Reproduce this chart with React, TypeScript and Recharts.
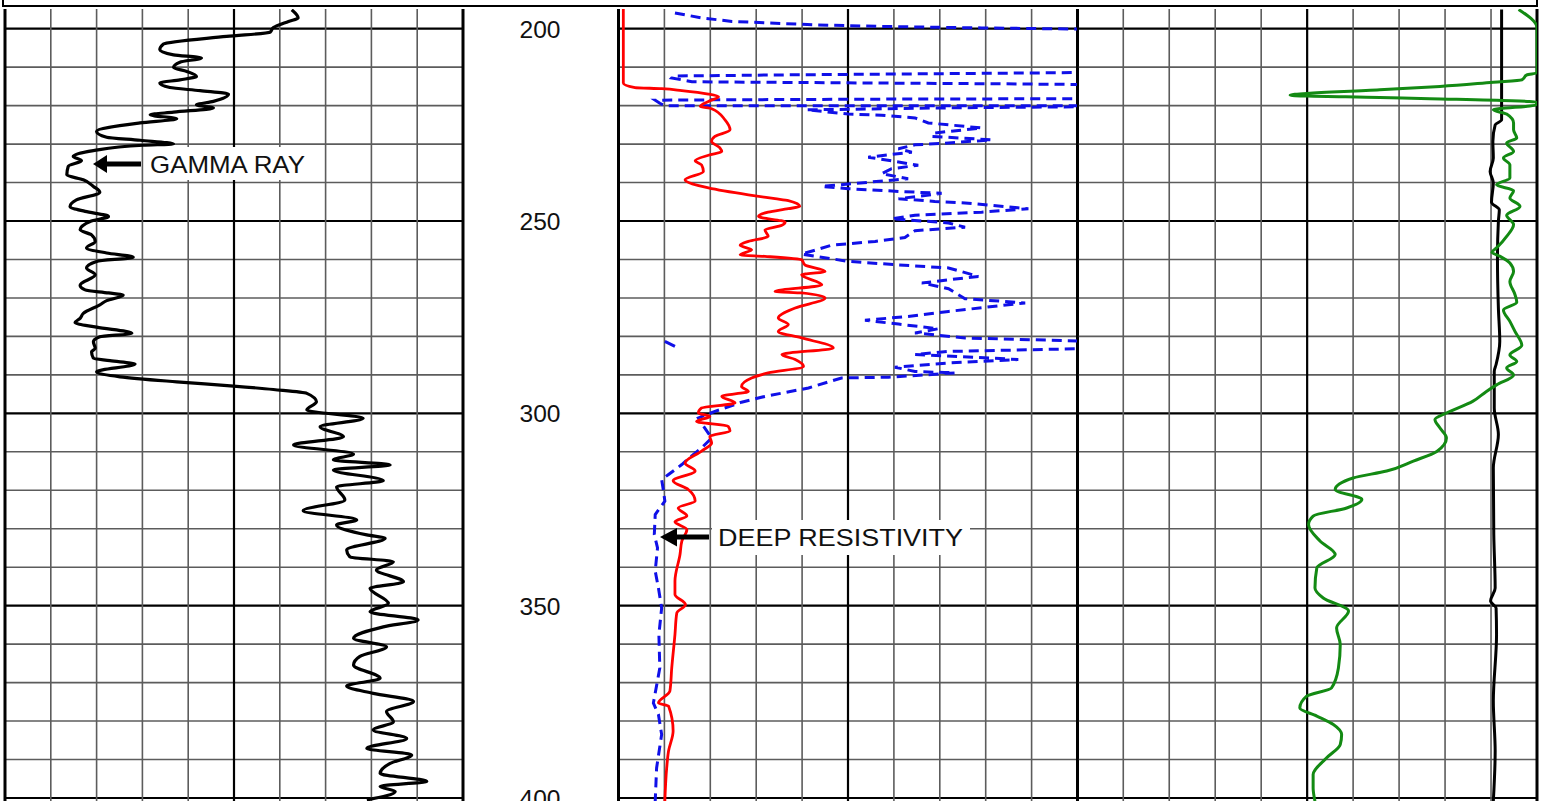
import React from "react";
import { LineChart, Line, XAxis, YAxis, ReferenceLine } from "recharts";

// depth window shown in the log (top of tracks -> bottom of page)
const DEPTH_TOP = 194.88;
const DEPTH_BOTTOM = 400.78;

const depthLabels = [200, 250, 300, 350, 400];
const gridDepths = [
  200, 210, 220, 230, 240, 250, 260, 270, 280, 290, 300, 310, 320, 330, 340,
  350, 360, 370, 380, 390, 400,
];
const gridValues = [0, 10, 20, 30, 40, 50, 60, 70, 80, 90, 100];

// [depth, value] pairs, value in track divisions (0-100)
const gammaRay: [number, number][] = [
  [195.1, 62.6], [197.2, 64.0], [198.1, 61.9], [199.7, 58.6], [200.9, 57.9],
  [202.0, 48.4], [204.0, 34.6], [205.5, 33.8], [206.8, 36.8], [207.6, 42.9],
  [208.7, 38.2], [210.1, 36.8], [211.1, 39.7], [212.4, 41.8], [213.3, 38.2],
  [214.1, 33.8], [215.3, 36.0], [216.1, 42.6], [217.0, 48.8], [218.9, 45.5],
  [219.8, 41.8], [220.6, 45.5], [221.7, 36.8], [222.4, 31.7], [223.4, 37.5],
  [224.5, 29.5], [226.7, 20.0], [228.2, 22.2], [229.0, 29.5], [230.0, 36.8],
  [230.3, 30.2], [231.7, 19.3], [233.2, 14.9], [234.3, 16.7], [235.8, 13.8],
  [238.0, 13.5], [239.3, 17.1], [241.0, 19.3], [242.5, 20.7], [244.5, 15.6],
  [246.2, 14.2], [247.5, 17.5], [248.8, 22.6], [250.1, 18.6], [252.3, 16.4],
  [253.6, 18.9], [255.3, 19.7], [257.0, 17.8], [258.3, 22.2], [259.4, 28.0],
  [260.5, 20.0], [262.2, 17.8], [264.0, 19.7], [266.7, 16.4], [267.9, 17.5],
  [268.7, 22.6], [269.3, 25.8], [270.7, 22.2], [271.8, 20.7], [274.0, 17.1],
  [275.3, 16.4], [276.4, 15.3], [277.6, 20.0], [279.2, 27.7], [280.1, 20.7],
  [281.4, 19.3], [283.1, 19.7], [284.0, 18.9], [285.7, 19.3], [286.3, 22.9],
  [287.2, 28.4], [289.2, 20.0], [290.5, 25.1], [291.8, 37.5], [292.9, 49.9],
  [293.8, 58.6], [294.8, 65.9], [297.0, 68.0], [299.1, 65.9], [301.3, 78.2],
  [303.5, 68.8], [306.1, 73.9], [308.2, 63.0], [310.6, 76.1], [312.1, 71.7],
  [313.4, 84.1], [314.7, 71.7], [317.5, 82.6], [319.1, 72.4], [322.5, 74.2],
  [325.3, 65.1], [327.7, 76.8], [329.0, 72.4], [331.6, 79.0], [332.5, 83.0],
  [335.5, 74.6], [337.3, 75.3], [338.6, 84.8], [340.7, 81.1], [343.8, 87.0],
  [345.5, 79.7], [349.4, 83.7], [351.6, 79.7], [353.7, 90.2], [355.5, 82.6],
  [358.5, 76.1], [360.7, 83.3], [363.2, 77.5], [365.4, 76.1], [368.9, 81.9],
  [370.9, 74.6], [372.8, 80.4], [374.9, 89.2], [377.5, 83.3], [380.2, 84.8],
  [382.3, 80.4], [384.5, 87.7], [387.1, 79.0], [388.8, 88.8], [391.0, 84.1],
  [393.6, 81.9], [395.7, 92.1], [397.0, 81.9], [398.3, 85.2], [400.5, 79.0],
];

const deepResistivity: [number, number][] = [
  [194.9, 1.05], [214.1, 1.05], [215.3, 3.6], [215.6, 9.4], [216.1, 13.8],
  [217.0, 19.6], [217.7, 21.8], [218.9, 19.6], [220.2, 17.8], [220.8, 20.3],
  [223.7, 23.2], [226.3, 24.3], [228.0, 21.0], [229.3, 20.3], [231.0, 22.1],
  [231.9, 22.5], [232.9, 19.6], [234.3, 16.7], [235.4, 18.1], [237.1, 18.5],
  [239.3, 14.5], [241.4, 19.6], [243.2, 28.3], [244.2, 34.1], [244.7, 37.0],
  [246.2, 39.5], [246.8, 37.0], [247.7, 32.6], [248.8, 30.5], [250.3, 36.3],
  [251.1, 35.6], [252.3, 31.9], [254.0, 32.6], [255.3, 28.3], [256.3, 26.5],
  [257.5, 29.0], [258.8, 26.5], [259.2, 31.9], [260.1, 39.9], [261.4, 40.6],
  [263.1, 45.0], [264.0, 39.9], [266.6, 44.3], [268.3, 34.1], [268.7, 39.9],
  [270.0, 45.0], [272.6, 38.5], [275.2, 34.8], [276.9, 37.0], [278.7, 34.8],
  [280.4, 39.9], [283.0, 46.8], [284.7, 35.6], [286.0, 38.5], [287.8, 40.3],
  [289.5, 32.6], [290.8, 29.0], [293.0, 26.8], [294.3, 28.3], [295.6, 22.5],
  [297.3, 25.4], [298.6, 18.1], [299.9, 17.4], [300.8, 19.9], [302.1, 17.0],
  [303.4, 23.9], [304.6, 24.3], [306.0, 19.9], [307.7, 20.3], [309.8, 18.1],
  [312.9, 14.5], [315.0, 16.7], [317.5, 11.9], [319.8, 15.2], [322.8, 16.7],
  [324.6, 13.0], [326.7, 14.9], [328.2, 12.3], [330.2, 14.9], [333.2, 13.8],
  [336.7, 13.4], [343.6, 12.3], [347.1, 12.3], [349.7, 14.6], [351.9, 12.7],
  [357.5, 12.3], [366.2, 11.6], [372.2, 11.2], [375.3, 8.7], [376.1, 10.9],
  [382.6, 11.9], [387.8, 10.9], [392.2, 10.5], [400.8, 10.1],
];

// shallow curve, values above 100 run off the right edge of the track
const shallowResistivity: [number, number][] = [
  [195.9, 12.3], [197.2, 18.1], [198.1, 24.7], [198.5, 32.6], [199.0, 42.8],
  [199.4, 57.3], [199.8, 79.1], [200.1, 100.5], [205.0, 130], [211.4, 100.5],
  [211.7, 70], [212.0, 37], [212.3, 12], [212.8, 11.6], [213.8, 16],
  [214.0, 40], [214.3, 80], [214.5, 100.5], [216.5, 130], [218.2, 100.5],
  [218.3, 60], [218.5, 20], [218.6, 8], [219.4, 9], [220.0, 10],
  [220.0, 50], [220.0, 100.5], [220.1, 130], [220.3, 100.5], [220.6, 70],
  [221.1, 41.0], [222.2, 50.1], [222.5, 57.3], [223.2, 64.6], [224.5, 67.5],
  [225.8, 79.1], [227.1, 69.0], [228.0, 68.2], [228.9, 81.3], [229.7, 71.9],
  [230.2, 64.6], [231.2, 61.0], [232.1, 63.9], [233.4, 54.4], [234.5, 60.2],
  [235.5, 65.3], [236.4, 59.5], [237.7, 57.3], [239.0, 63.1], [241.0, 44.3],
  [241.6, 50.1], [242.3, 61.0], [242.8, 70.4], [244.2, 61.0], [244.9, 68.9],
  [245.3, 75.5], [246.8, 89.3], [247.7, 79.1], [248.5, 64.6], [249.4, 59.5],
  [250.5, 71.9], [251.6, 75.5], [252.5, 64.6], [254.3, 62.4], [255.3, 55.9],
  [256.3, 46.4], [258.6, 39.9], [260.5, 50.1], [261.4, 61.0], [262.2, 71.9],
  [264.4, 78.4], [266.1, 66.1], [267.6, 71.9], [270.2, 75.5], [271.3, 88.6],
  [273.5, 71.9], [274.8, 63.1], [275.8, 53.7], [276.8, 61.0], [278.0, 69.7],
  [279.1, 64.6], [280.4, 75.5], [281.2, 100.5], [282.2, 130], [283.2, 100.5],
  [283.9, 71.9], [284.7, 64.6], [286.0, 87.1], [286.9, 71.9], [288.0, 60.2],
  [289.1, 64.6], [289.5, 73.3], [290.6, 58.8], [290.8, 48.6], [293.4, 41.4],
  [295.6, 31.9], [297.1, 26.8], [299.5, 21.0], [301.2, 17.4], [303.3, 18.5],
  [306.4, 20.3], [309.0, 18.1], [311.1, 15.9], [313.3, 13.8], [315.9, 10.9],
  [317.2, 9.4], [320.2, 9.8], [322.8, 10.1], [326.3, 8.0], [331.5, 7.8],
  [335.0, 8.5], [341.0, 8.0], [345.4, 8.7], [350.6, 9.4], [357.5, 8.8],
  [366.2, 9.0], [375.3, 7.6], [378.3, 8.7], [383.5, 9.4], [392.2, 8.3],
  [400.8, 8.0],
];

const shallowStub: [number, number][] = [
  [281.3, 10.1], [282.6, 12.3],
];

const greenLog: [number, number][] = [
  [195.0, 96.0], [199.8, 100], [211.5, 100], [212.0, 97.8], [213.3, 96.7],
  [213.9, 90.5], [215.0, 78.9], [215.9, 65.8], [217.3, 46.3], [217.9, 65.8],
  [218.2, 76.7], [219.1, 99.9], [219.8, 99.9], [221.1, 90.5], [222.2, 93.4],
  [224.5, 94.9], [226.3, 94.9], [228.4, 95.6], [229.7, 93.4], [231.9, 94.9],
  [233.6, 92.7], [235.4, 94.1], [238.8, 94.1], [240.6, 91.2], [242.1, 94.9],
  [244.0, 94.1], [246.2, 96.3], [248.5, 93.4], [250.9, 94.9], [254.0, 93.4],
  [257.0, 91.2], [258.1, 90.2], [259.2, 92.0], [260.9, 94.1], [263.1, 94.9],
  [265.7, 94.1], [269.1, 95.2], [271.1, 95.6], [273.1, 92.7], [276.1, 94.1],
  [278.7, 95.2], [282.3, 96.7], [284.8, 94.1], [286.5, 95.6], [288.2, 93.4],
  [290.0, 94.9], [292.6, 91.2], [294.3, 89.0], [296.9, 86.0], [299.9, 80.3],
  [301.6, 77.8], [303.8, 78.9], [306.4, 80.3], [309.9, 78.2], [312.4, 73.1],
  [315.0, 67.3], [316.8, 60.0], [319.8, 56.1], [322.4, 61.9], [324.6, 58.6],
  [326.7, 51.3], [328.9, 50.3], [333.2, 52.8], [336.7, 56.1], [340.2, 52.1],
  [345.4, 51.7], [348.0, 53.5], [351.4, 59.0], [355.8, 56.4], [360.1, 57.2],
  [366.2, 56.8], [371.4, 55.3], [373.5, 49.9], [376.6, 48.4], [378.7, 52.1],
  [380.9, 55.7], [383.5, 57.5], [386.1, 57.2], [389.6, 54.2], [393.9, 51.3],
  [397.4, 51.3], [400.8, 51.7],
];

const caliper: [number, number][] = [
  [195.0, 92.3], [223.7, 92.3], [225.0, 90.9], [229.3, 90.4], [233.6, 90.5],
  [237.1, 89.8], [240.1, 90.5], [245.1, 90.1], [247.1, 91.8], [250.1, 91.6],
  [259.6, 91.4], [272.6, 91.6], [281.3, 91.9], [287.3, 91.1], [289.1, 90.7],
  [298.6, 90.7], [305.5, 91.6], [314.2, 90.5], [331.5, 90.6], [345.4, 90.9],
  [348.8, 89.9], [350.6, 91.1], [357.5, 91.2], [374.8, 90.5], [387.8, 90.9],
  [400.8, 90.5],
];

const FONT = "'Liberation Sans', Arial, sans-serif";
const CHART_H = 801;

const rows = (pts: [number, number][]) => pts.map(([depth, v]) => ({ depth, v }));

// grid drawn through the axis scales
function gridLines(prefix: string) {
  const h = gridDepths.map((d) => (
    <ReferenceLine
      key={`${prefix}-h-${d}`}
      y={d}
      stroke={d % 50 === 0 ? "#000" : "#5c5c5c"}
      strokeWidth={d % 50 === 0 ? 2.2 : 1.6}
      zIndex={-50}
    />
  ));
  const v = gridValues.map((x) => (
    <ReferenceLine
      key={`${prefix}-v-${x}`}
      x={x}
      stroke={x === 50 || x === 0 || x === 100 ? "#000" : "#5c5c5c"}
      strokeWidth={x === 0 || x === 100 ? 3 : x === 50 ? 2.2 : 1.6}
      zIndex={-40}
    />
  ));
  return [...h, ...v];
}

const DepthTick = (props: any) => (
  <text
    x={77}
    y={props.y + 9}
    textAnchor="middle"
    fontSize={24}
    fontFamily={FONT}
    fill="#111"
    textLength={41}
    lengthAdjust="spacingAndGlyphs"
  >
    {props.payload.value}
  </text>
);

export default function App() {
  return (
    <div
      style={{
        position: "absolute",
        left: 0,
        top: 0,
        width: 1546,
        height: 801,
        overflow: "hidden",
        background: "#fff",
        fontFamily: FONT,
      }}
    >
      {/* header box bottom edge */}
      <div
        style={{
          position: "absolute",
          left: 1.5,
          top: -10,
          width: 1532.5,
          height: 12.5,
          border: "2px solid #000",
        }}
      />

      {/* gamma ray track */}
      <div style={{ position: "absolute", left: 0, top: 0 }}>
        <LineChart
          layout="vertical"
          width={470}
          height={CHART_H}
          margin={{ top: 9, right: 7, bottom: 0, left: 5 }}
        >
          <XAxis type="number" domain={[0, 100]} hide allowDataOverflow />
          <YAxis
            type="number"
            dataKey="depth"
            domain={[DEPTH_TOP, DEPTH_BOTTOM]}
            hide
            allowDataOverflow
          />
          {gridLines("gr")}
          <Line
            data={rows(gammaRay)}
            dataKey="v"
            type="monotone"
            stroke="#000"
            strokeWidth={3.2}
            dot={false}
            activeDot={false}
            isAnimationActive={false}
          />
        </LineChart>
      </div>

      {/* resistivity track with depth column */}
      <div style={{ position: "absolute", left: 463, top: 0 }}>
        <LineChart
          layout="vertical"
          width={620}
          height={CHART_H}
          margin={{ top: 9, right: 5.5, bottom: 0, left: 0 }}
        >
          <XAxis type="number" domain={[0, 100]} hide allowDataOverflow />
          <YAxis
            type="number"
            dataKey="depth"
            domain={[DEPTH_TOP, DEPTH_BOTTOM]}
            allowDataOverflow
            width={155.5}
            ticks={depthLabels}
            interval={0}
            axisLine={false}
            tickLine={false}
            tick={<DepthTick />}
          />
          {gridLines("res")}
          <Line
            data={rows(shallowResistivity)}
            dataKey="v"
            type="linear"
            stroke="#1010e8"
            strokeWidth={3}
            strokeDasharray="10 6"
            dot={false}
            activeDot={false}
            isAnimationActive={false}
          />
          <Line
            data={rows(shallowStub)}
            dataKey="v"
            type="linear"
            stroke="#1010e8"
            strokeWidth={3}
            dot={false}
            activeDot={false}
            isAnimationActive={false}
          />
          <Line
            data={rows(deepResistivity)}
            dataKey="v"
            type="monotone"
            stroke="#ff0000"
            strokeWidth={2.8}
            dot={false}
            activeDot={false}
            isAnimationActive={false}
          />
        </LineChart>
      </div>

      {/* right track */}
      <div style={{ position: "absolute", left: 1077, top: 0 }}>
        <LineChart
          layout="vertical"
          width={469}
          height={CHART_H}
          margin={{ top: 9, right: 9, bottom: 0, left: 0.3 }}
        >
          <XAxis type="number" domain={[0, 100]} hide allowDataOverflow />
          <YAxis
            type="number"
            dataKey="depth"
            domain={[DEPTH_TOP, DEPTH_BOTTOM]}
            hide
            allowDataOverflow
          />
          {gridLines("rt")}
          <Line
            data={rows(caliper)}
            dataKey="v"
            type="monotone"
            stroke="#000"
            strokeWidth={3}
            dot={false}
            activeDot={false}
            isAnimationActive={false}
          />
          <Line
            data={rows(greenLog)}
            dataKey="v"
            type="monotone"
            stroke="#138a13"
            strokeWidth={3}
            dot={false}
            activeDot={false}
            isAnimationActive={false}
          />
        </LineChart>
      </div>

      {/* curve name callouts */}
      <svg
        width={1546}
        height={801}
        style={{ position: "absolute", left: 0, top: 0, pointerEvents: "none" }}
      >
        <rect x={145} y={147} width={168} height={33} fill="#fff" />
        <text
          x={150}
          y={173}
          fontSize={24}
          fontFamily={FONT}
          fill="#111"
          textLength={155}
          lengthAdjust="spacingAndGlyphs"
        >
          GAMMA RAY
        </text>
        <polygon points="93,164 107,155 107,173" fill="#000" />
        <rect x={106} y={161.5} width={35} height={5} fill="#000" />

        <rect x={712} y={520} width={258} height={35} fill="#fff" />
        <text
          x={718}
          y={546}
          fontSize={24}
          fontFamily={FONT}
          fill="#111"
          textLength={245}
          lengthAdjust="spacingAndGlyphs"
        >
          DEEP RESISTIVITY
        </text>
        <polygon points="660,537 677,528 677,546.5" fill="#000" />
        <rect x={676} y={534.5} width={33} height={5} fill="#000" />
      </svg>
    </div>
  );
}
